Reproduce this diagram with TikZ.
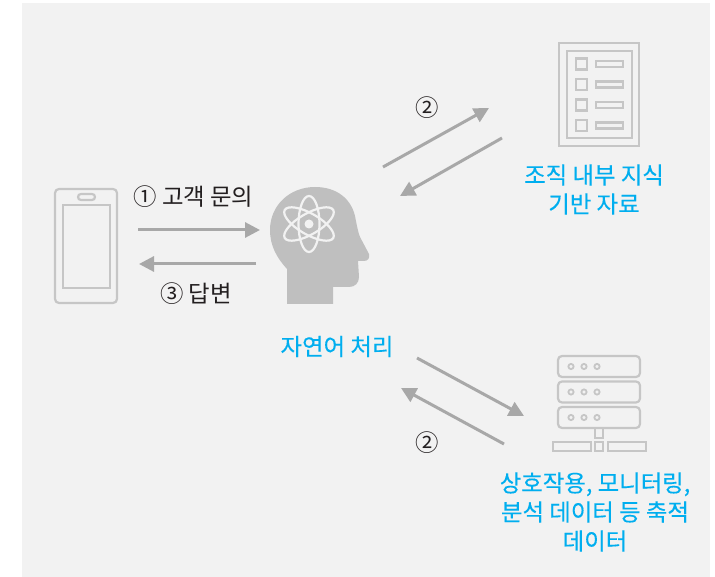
\documentclass[tikz,border=0pt]{standalone}
\usepackage{fontspec}
\setmainfont{Noto Sans CJK KR}
\newfontfamily\bluefont[FakeBold=0.25]{Noto Sans CJK KR}
\usetikzlibrary{arrows.meta}
\definecolor{bgc}{HTML}{F2F2F2}
\definecolor{iconc}{HTML}{C6C6C6}
\definecolor{headc}{HTML}{BFBFBF}
\definecolor{arrowc}{HTML}{A8A8A8}
\definecolor{bluec}{HTML}{00AEEF}
\definecolor{textc}{HTML}{231F20}
\tikzset{
  flow/.style={draw=arrowc,line width=3pt,-{Triangle[length=15pt,width=15pt]},shorten >=0pt},
  icon/.style={draw=iconc,line width=2.2pt},
  iconround/.style={icon,rounded corners=4pt},
  atomline/.style={draw=bgc,line width=2.2pt},
  blabel/.style={text=bluec,font=\bluefont\fontsize{23.4}{29}\selectfont,inner sep=0pt,align=center},
  dlabel/.style={text=textc,font=\fontsize{23.4}{29}\selectfont,inner sep=0pt},
  pt/.style={inner sep=0pt,minimum size=0pt}
}
\begin{document}
\begin{tikzpicture}[x=1pt,y=-1pt]
\useasboundingbox (0,0) rectangle (715,577);
\fill[bgc] (22,3) rectangle (710,577);
% phone
\draw[iconround] (55,189) rectangle (117,303);
\draw[icon] (63,205) rectangle (110,288);
\draw[icon,rounded corners=3pt] (78,194) rectangle (95,200);
% head
\fill[headc] (287,304) -- (287,269) .. controls (277,258) and (270,246) .. (270,230)
  .. controls (270,205) and (290,187) .. (315,187)
  .. controls (337,187) and (351,199) .. (355,216)
  .. controls (357,226) and (358,232) .. (360,237)
  -- (369,254) .. controls (370,258) and (368,261) .. (364,261)
  -- (358,261) -- (359,277) .. controls (359,283) and (355,287) .. (349,287)
  -- (333,287) -- (333,304) -- cycle;
\foreach \a in {0,60,120}
  \draw[atomline,rotate around={\a:(309,224)}] (309,224) ellipse [x radius=10.5,y radius=28];
\fill[bgc] (309,224) circle (4.5);
% document
\draw[icon] (559,43) rectangle (639,146);
\draw[icon] (567,51) rectangle (632,138);
\foreach \y in {64,84.5,105,125.5}{
  \draw[icon] (576,\y-5.5) rectangle (587,\y+5.5);
  \draw[icon] (596,\y-3) rectangle (623,\y+3);
}
% server
\foreach \y in {356,381.5,407}{
  \draw[iconround] (558,\y) rectangle (640,\y+21);
  \foreach \x in {571,584,597}
    \draw[draw=iconc,line width=1.8pt] (\x,\y+10.5) circle (2.6);
}
\draw[icon] (595,428) rectangle (603,438);
\draw[icon] (553,442) rectangle (591,451);
\draw[icon] (595,442) rectangle (603,451);
\draw[icon] (608,442) rectangle (646,451);
% connector ends
\coordinate (a1s) at (138,230); \coordinate (a1e) at (260,230);
\coordinate (a3s) at (256,264); \coordinate (a3e) at (139,264);
\coordinate (b1s) at (383,167); \coordinate (b1e) at (489,108);
\coordinate (b2s) at (502,138); \coordinate (b2e) at (400,196);
\coordinate (c1s) at (417,358); \coordinate (c1e) at (524,416);
\coordinate (c2s) at (504,444); \coordinate (c2e) at (401,388);
\draw[flow] (a1s) -- (a1e);
\draw[flow] (a3s) -- (a3e);
\draw[flow] (b1s) -- (b1e);
\draw[flow] (b2s) -- (b2e);
\draw[flow] (c1s) -- (c1e);
\draw[flow] (c2s) -- (c2e);
% labels
\node[dlabel] (q) at (193.5,197) {① 고객 문의};
\node[dlabel] (r) at (196,294) {③ 답변};
\node[dlabel] (n1) at (427,108) {②};
\node[dlabel] (n2) at (427,443) {②};
\node[blabel] (kb) at (594,189.5) {조직 내부 지식\\기반 자료};
\node[blabel] (nlp) at (337,346.5) {자연어 처리};
\node[blabel] (data) at (595,512) {상호작용, 모니터링,\\분석 데이터 등 축적\\데이터};
\end{tikzpicture}
\end{document}
